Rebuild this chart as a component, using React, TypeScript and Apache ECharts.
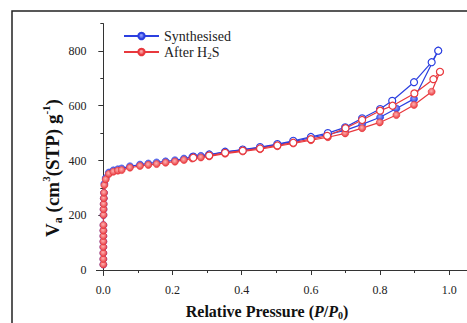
import React, { useEffect, useRef } from "react";
import * as echarts from "echarts";

// Synthesised (blue) – adsorption branch
const synAdsP = [0.00001, 0.00002, 0.00004, 0.00006, 0.0001, 0.00015, 0.0002, 0.0003, 0.0005, 0.0007, 0.001, 0.0014, 0.002, 0.003, 0.007, 0.016, 0.029, 0.042, 0.053, 0.077, 0.106, 0.13, 0.154, 0.18, 0.207, 0.233, 0.257, 0.282, 0.306, 0.352, 0.403, 0.453, 0.503, 0.549, 0.6, 0.649, 0.699, 0.748, 0.8, 0.847, 0.898, 0.968];
const synAdsV = [20, 40, 62, 84, 104, 124, 144, 164, 201, 222, 241, 262, 282, 315, 336, 356, 364, 368, 371, 379, 385, 389, 393, 397, 401, 407, 413, 417, 421, 431, 439, 447, 458, 469, 483, 495, 510, 532, 558, 590, 625, 801];
// Synthesised – desorption branch
const synDesP = [0.968, 0.949, 0.898, 0.835, 0.8, 0.748, 0.699, 0.649, 0.6, 0.549, 0.503, 0.453, 0.403, 0.352, 0.306, 0.26];
const synDesV = [801, 759, 686, 618, 588, 554, 521, 500, 486, 472, 460, 449, 440, 432, 422, 414];

// After H2S (red) – adsorption branch
const h2sAdsP = [0.00001, 0.00002, 0.00004, 0.00006, 0.0001, 0.00015, 0.0002, 0.0003, 0.0005, 0.0007, 0.001, 0.0014, 0.002, 0.003, 0.007, 0.016, 0.029, 0.042, 0.053, 0.077, 0.106, 0.13, 0.154, 0.18, 0.207, 0.233, 0.257, 0.282, 0.306, 0.352, 0.403, 0.453, 0.503, 0.549, 0.6, 0.649, 0.699, 0.748, 0.799, 0.847, 0.898, 0.949, 0.973];
const h2sAdsV = [20, 40, 62, 84, 104, 124, 144, 164, 201, 222, 241, 262, 282, 310, 331, 351, 359, 363, 365, 374, 380, 384, 387, 392, 396, 402, 407, 411, 415, 425, 433, 441, 452, 462, 474, 485, 499, 518, 539, 566, 603, 651, 724];
// After H2S – desorption branch
const h2sDesP = [0.973, 0.954, 0.899, 0.836, 0.8, 0.748, 0.7, 0.647, 0.6, 0.549, 0.503, 0.453, 0.403, 0.352, 0.306, 0.26];
const h2sDesV = [724, 697, 645, 600, 582, 548, 518, 490, 478, 465, 455, 444, 436, 428, 418, 410];

const xMajorTicks = [0, 0.2, 0.4, 0.6, 0.8, 1.0];
const xMinorTicks = [0.1, 0.3, 0.5, 0.7, 0.9];
const yMajorTicks = [0, 200, 400, 600, 800];
const yMinorTicks = [100, 300, 500, 700, 900];

const BLUE = "#2b3fe0";
const RED = "#e8383d";
const FONT = "Liberation Serif";

const pairs = (xs: number[], ys: number[]) => xs.map((x, i) => [x, ys[i]]);

const ballFill = (base: string, light: string) => ({
  type: "radial",
  x: 0.45,
  y: 0.4,
  r: 0.6,
  colorStops: [
    { offset: 0, color: light },
    { offset: 1, color: base },
  ],
});

export default function App() {
  const ref = useRef<HTMLDivElement>(null);
  useEffect(() => {
    if (!ref.current) return;
    const chart = echarts.init(ref.current, null, { renderer: "svg" });
    const xBase = { type: "value", min: -0.02, max: 1.05, gridIndex: 0, position: "bottom" };
    const yBase = { type: "value", min: -20, max: 900, gridIndex: 0, position: "left" };
    const option: any = {
      animation: false,
      backgroundColor: "#fff",
      textStyle: { fontFamily: FONT },
      grid: { left: 96.4, right: 0.4, top: 23.6, bottom: 47.5 },
      xAxis: [
        {
          ...xBase,
          axisLine: { show: true, lineStyle: { color: "#333", width: 1 } },
          axisTick: { show: true, customValues: xMajorTicks, length: 5, lineStyle: { color: "#333" } },
          axisLabel: {
            customValues: xMajorTicks,
            margin: 8,
            fontFamily: FONT,
            fontSize: 12,
            color: "#222",
            formatter: (v: number) => v.toFixed(1),
          },
          splitLine: { show: false },
        },
        {
          ...xBase,
          axisLine: { show: false },
          axisTick: { show: true, customValues: xMinorTicks, length: 3, lineStyle: { color: "#333" } },
          axisLabel: { show: false },
          splitLine: { show: false },
        },
      ],
      yAxis: [
        {
          ...yBase,
          axisLine: { show: true, lineStyle: { color: "#333", width: 1 } },
          axisTick: { show: true, customValues: yMajorTicks, length: 5, lineStyle: { color: "#333" } },
          axisLabel: {
            customValues: yMajorTicks,
            margin: 10,
            fontFamily: FONT,
            fontSize: 12,
            color: "#222",
          },
          splitLine: { show: false },
        },
        {
          ...yBase,
          axisLine: { show: false },
          axisTick: { show: true, customValues: yMinorTicks, length: 3, lineStyle: { color: "#333" } },
          axisLabel: { show: false },
          splitLine: { show: false },
        },
      ],
      legend: {
        data: ["Synthesised", "After H2S"],
        orient: "vertical",
        left: 123,
        top: 28,
        padding: 0,
        itemWidth: 35,
        itemHeight: 8,
        itemGap: 0,
        textStyle: {
          fontFamily: FONT,
          fontSize: 14,
          lineHeight: 16,
          color: "#222",
          rich: {
            sub: { fontFamily: FONT, fontSize: 9, lineHeight: 9, verticalAlign: "bottom", color: "#222", padding: [6, 0, 0, 0] },
          },
        },
        formatter: (name: string) => (name === "After H2S" ? "After H{sub|2}S" : name),
      },
      series: [
        {
          name: "Synthesised",
          type: "line",
          xAxisIndex: 0,
          yAxisIndex: 0,
          data: pairs(synAdsP, synAdsV),
          symbol: "circle",
          symbolSize: 7,
          lineStyle: { color: BLUE, width: 1.2 },
          itemStyle: { color: ballFill(BLUE, "#9aa6ff"), borderColor: BLUE, borderWidth: 0.6 },
        },
        {
          name: "After H2S",
          type: "line",
          xAxisIndex: 0,
          yAxisIndex: 0,
          data: pairs(h2sAdsP, h2sAdsV),
          symbol: "circle",
          symbolSize: 7,
          lineStyle: { color: RED, width: 1.2 },
          itemStyle: { color: ballFill(RED, "#ffb3b3"), borderColor: RED, borderWidth: 0.6 },
        },
        {
          name: "Synthesised desorption",
          type: "line",
          xAxisIndex: 0,
          yAxisIndex: 0,
          data: pairs(synDesP, synDesV),
          symbol: "circle",
          symbolSize: 7,
          lineStyle: { color: BLUE, width: 1.2 },
          itemStyle: { color: "#fff", borderColor: BLUE, borderWidth: 1.2 },
        },
        {
          name: "After H2S desorption",
          type: "line",
          xAxisIndex: 0,
          yAxisIndex: 0,
          data: pairs(h2sDesP, h2sDesV),
          symbol: "circle",
          symbolSize: 7,
          lineStyle: { color: RED, width: 1.2 },
          itemStyle: { color: "#fff", borderColor: RED, borderWidth: 1.2 },
        },
      ],
      graphic: [
        {
          type: "rect",
          shape: { x: 12, y: 11, width: 600, height: 400 },
          style: { fill: "none", stroke: "#222", lineWidth: 1.5 },
          silent: true,
        },
        {
          type: "text",
          x: 52,
          y: 168,
          rotation: Math.PI / 2,
          style: {
            text: "V{sub|a} (cm{sup|3}(STP) g{sup|-1})",
            fontFamily: FONT,
            fontSize: 19,
            fontWeight: "bold",
            lineHeight: 23,
            fill: "#111",
            align: "center",
            verticalAlign: "middle",
            rich: {
              sub: { fontFamily: FONT, fontSize: 12, fontWeight: "bold", lineHeight: 12, verticalAlign: "bottom", padding: [8, 0, 0, 0] },
              sup: { fontFamily: FONT, fontSize: 11, fontWeight: "bold", lineHeight: 11, verticalAlign: "top" },
            },
          },
        },
        {
          type: "text",
          x: 267,
          y: 311,
          style: {
            text: "Relative Pressure ({i|P}/{i|P}{sub|0})",
            fontFamily: FONT,
            fontSize: 16,
            fontWeight: "bold",
            lineHeight: 19,
            fill: "#111",
            align: "center",
            verticalAlign: "middle",
            rich: {
              i: { fontFamily: FONT, fontSize: 16, fontWeight: "bold", fontStyle: "italic", lineHeight: 19 },
              sub: { fontFamily: FONT, fontSize: 10, fontWeight: "bold", lineHeight: 10, verticalAlign: "bottom", padding: [6, 0, 0, 0] },
            },
          },
        },
      ],
    };
    chart.setOption(option);
    return () => chart.dispose();
  }, []);
  return (
    <div
      ref={ref}
      style={{ position: "fixed", left: 0, top: 0, width: 467, height: 323, background: "#fff" }}
    />
  );
}
